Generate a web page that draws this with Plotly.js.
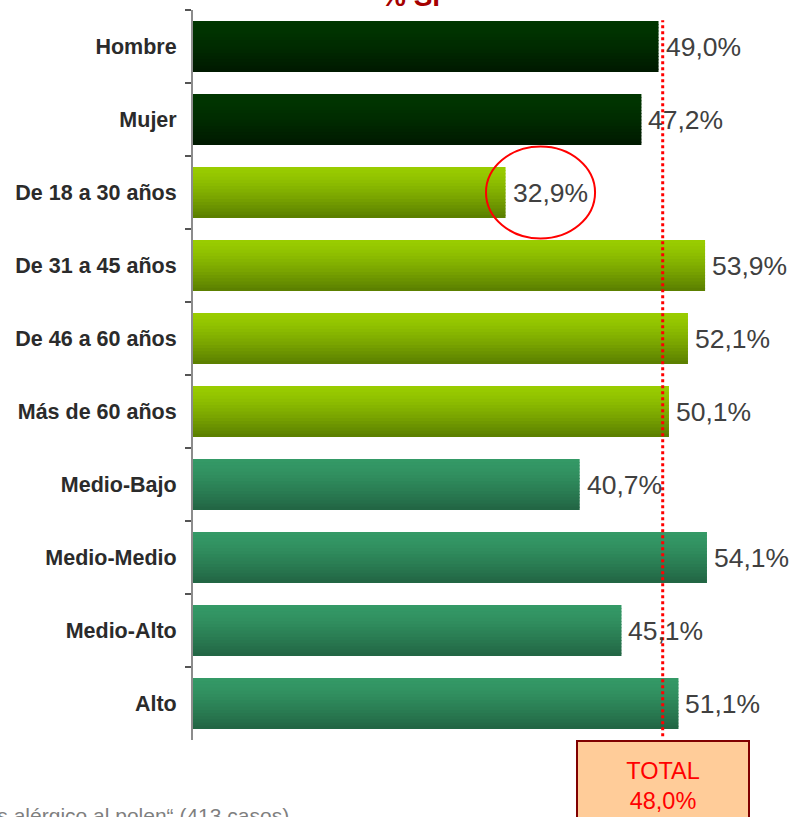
<!DOCTYPE html>
<html>
<head>
<meta charset="utf-8">
<script src="https://cdn.plot.ly/plotly-3.0.1.min.js"></script>
<style>html,body{margin:0;padding:0;background:#fff;}#chart{width:792px;height:817px;}</style>
</head>
<body>
<div id="chart"></div>
<script>
// ---- data ----
const categories = ["Hombre", "Mujer", "De 18 a 30 años", "De 31 a 45 años", "De 46 a 60 años",
  "Más de 60 años", "Medio-Bajo", "Medio-Medio", "Medio-Alto", "Alto"];
const values = [49.0, 47.2, 32.9, 53.9, 52.1, 50.1, 40.7, 54.1, 45.1, 51.1];
const groups = ["sexo", "sexo", "edad", "edad", "edad", "edad", "clase", "clase", "clase", "clase"];
const totalValue = 48.0;
const titleText = "% Sí";
const footnote = "Base: Total “Es alérgico al polen“ (413 casos)";

// ---- styles ----
const topColors = {sexo: [0, 54, 0], edad: [153, 204, 0], clase: [52, 153, 102]};
const bottomColors = {sexo: [0, 26, 0], edad: [92, 128, 0], clase: [34, 102, 68]};
const FONT = "Arial, 'Liberation Sans', sans-serif";
const BAR_W = 0.70;
const NB = 16;

function mix(a, b, t) {
  return 'rgb(' + a.map((v, i) => Math.round(v + (b[i] - v) * t)).join(',') + ')';
}

const traces = [];
const bw = BAR_W / NB;
for (let k = 0; k < NB; k++) {
  const t = k / (NB - 1);
  const tt = Math.pow(t, 1.3);
  traces.push({
    type: 'bar', orientation: 'h',
    x: values, y: categories,
    width: categories.map(() => bw + (k < NB - 1 ? 0.012 : 0)),
    offset: categories.map(() => -BAR_W / 2 + k * bw),
    marker: {color: groups.map(g => mix(topColors[g], bottomColors[g], tt)), line: {width: 0}},
    hoverinfo: 'skip', showlegend: false
  });
}

const fmt = v => v.toFixed(1).replace('.', ',') + '%';

const plotW = 792 - 193, plotH = 817 - 10 - 77;
const px2x = p => (p - 193) / plotW;
const px2y = p => 1 - (p - 10) / plotH;

const annotations = categories.map((c, i) => ({
  x: values[i], y: c, xref: 'x', yref: 'y', text: fmt(values[i]),
  xanchor: 'left', yanchor: 'middle', xshift: 5, showarrow: false,
  font: {family: FONT, size: 26.5, color: '#404040'}
}));

annotations.push({
  x: 0.364, y: 1, xref: 'paper', yref: 'paper', yanchor: 'bottom', yshift: -4,
  text: '<b>' + titleText + '</b>', showarrow: false,
  font: {family: FONT, size: 28, color: '#a50000'}
});
annotations.push({
  x: px2x(291), y: px2y(802), xref: 'paper', yref: 'paper', xanchor: 'right', yanchor: 'top',
  text: footnote, showarrow: false,
  font: {family: FONT, size: 21, color: '#7f7f7f'}
});
annotations.push({
  x: px2x(576), y: px2y(740), xref: 'paper', yref: 'paper', xanchor: 'left', yanchor: 'top',
  text: 'TOTAL<br>' + fmt(totalValue), showarrow: false, align: 'center',
  width: 170, height: 88, bgcolor: '#ffcc99', bordercolor: '#800000', borderwidth: 2,
  valign: 'middle', borderpad: 0,
  font: {family: FONT, size: 23.5, color: '#ff0000'}
});

const layout = {
  width: 792, height: 817,
  margin: {l: 193, r: 0, t: 10, b: 77},
  paper_bgcolor: '#ffffff', plot_bgcolor: '#ffffff',
  barmode: 'overlay',
  xaxis: {range: [0, 63.05], visible: false, fixedrange: true},
  yaxis: {
    type: 'category', autorange: 'reversed', categoryorder: 'array', categoryarray: categories,
    showline: true, linecolor: '#8c8c8c', linewidth: 2,
    ticks: 'outside', tickson: 'boundaries', ticklen: 6, tickwidth: 2, tickcolor: '#555',
    showgrid: false, zeroline: false, ticklabelstandoff: 10,
    tickfont: {family: FONT, size: 21.5, color: '#2b2b2b', weight: 'bold'}
  },
  shapes: [
    {type: 'line', xref: 'x', yref: 'paper', x0: 49.44, x1: 49.44, y0: 0.005, y1: 0.986,
     line: {color: '#ff0000', width: 3, dash: 'dot'}},
    {type: 'circle', xref: 'x', yref: 'y', x0: 30.84, x1: 42.32, y0: 1.37, y1: 2.63,
     line: {color: '#ff0000', width: 2}}
  ],
  annotations: annotations,
  font: {family: FONT}
};

Plotly.newPlot('chart', traces, layout, {staticPlot: true});
</script>
</body>
</html>
